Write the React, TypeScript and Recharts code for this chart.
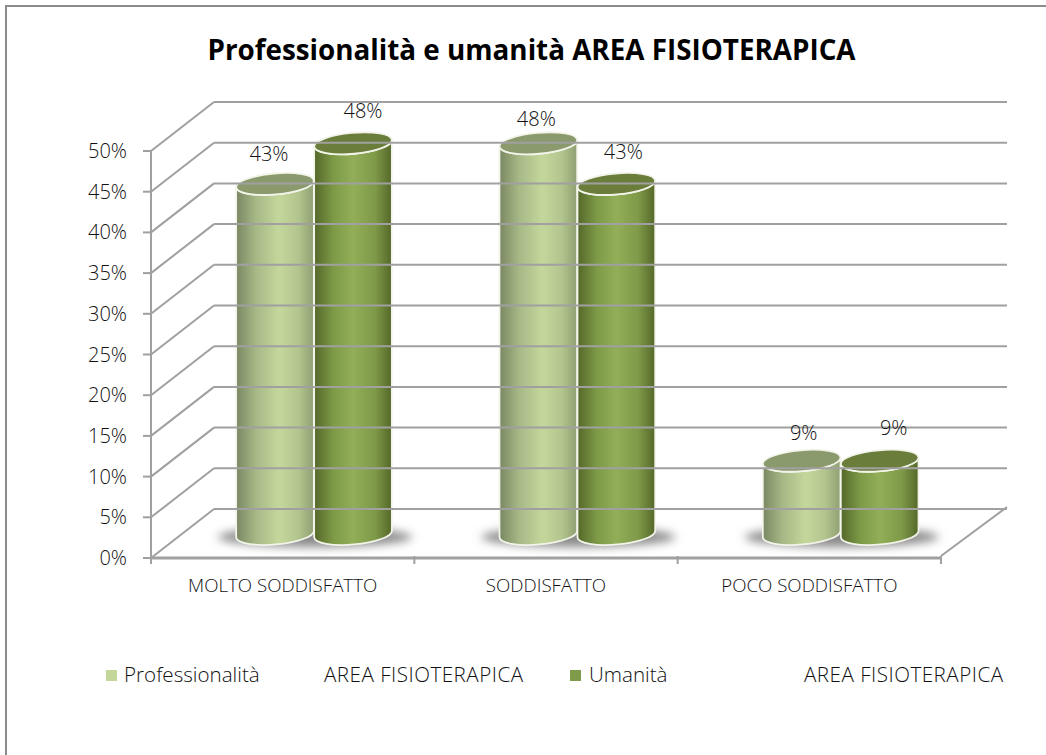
import { BarChart, Bar, XAxis, YAxis, LabelList, Legend } from "recharts";

const categories = ["MOLTO SODDISFATTO", "SODDISFATTO", "POCO SODDISFATTO"];
const professionalita = [43, 48, 9];
const umanita = [48, 43, 9];
const yTicks = [0, 5, 10, 15, 20, 25, 30, 35, 40, 45, 50];
const legendSuffix = "AREA FISIOTERAPICA";

const data = categories.map((name, i) => ({
  name,
  professionalita: professionalita[i],
  umanita: umanita[i],
}));

const FONT = '"Open Sans", "Noto Sans", sans-serif';
const TEXT = "#111";
const AXIS = "#a0a0a0";

// floor depth of the fake 3D box, and how far the bars sit into it
const DEPTH_X = 63;
const DEPTH_Y = -49;
const BAR_DX = 31;
const BAR_DY = -24;
const FRONT_WIDTH = 790;
const BAND = FRONT_WIDTH / categories.length;

// hand nudges so the data labels land where the original put them
const labelNudgeA = [[-6, -30], [-2, -24], [2, -28]];
const labelNudgeB = [[10, -32], [7, -32], [14, -33]];

function WallTick({ x, y, payload }: any) {
  const left = x + 10;
  return (
    <g>
      <line x1={left} y1={y} x2={left + DEPTH_X} y2={y + DEPTH_Y} stroke={AXIS} strokeWidth={2} />
      <line x1={left + DEPTH_X} y1={y + DEPTH_Y} x2={left + DEPTH_X + FRONT_WIDTH + 3} y2={y + DEPTH_Y} stroke={AXIS} strokeWidth={2} />
      <text x={x - 14} y={y + 7} textAnchor="end" fontSize={20} fontWeight={300} fontFamily={FONT} fill={TEXT}>
        {payload.value}%
      </text>
    </g>
  );
}

function FloorTick({ x, y, payload, index }: any) {
  const axisY = y - 8 - 2;
  const leftEdge = x - BAND / 2;
  const rightEdge = x + BAND / 2;
  const last = index === categories.length - 1;
  return (
    <g>
      <line x1={leftEdge} y1={axisY} x2={leftEdge} y2={axisY + 8} stroke={AXIS} strokeWidth={2} />
      {last && (
        <>
          <line x1={rightEdge} y1={axisY} x2={rightEdge} y2={axisY + 8} stroke={AXIS} strokeWidth={2} />
          <line x1={rightEdge} y1={axisY} x2={rightEdge + DEPTH_X + 3} y2={axisY + DEPTH_Y} stroke={AXIS} strokeWidth={2} />
        </>
      )}
      <text x={x} y={axisY + 36} textAnchor="middle" fontSize={18.7} fontWeight={300} fontFamily={FONT} fill={TEXT}>
        {payload.value}
      </text>
    </g>
  );
}

function Cylinder({ x, y, width, height, bodyId, top, shadow }: any) {
  const rx = width / 2;
  const ry = 10.5;
  const tilt = -5;
  const cx = x + rx + BAR_DX;
  const topY = y + BAR_DY;
  const baseY = y + height + BAR_DY;
  const dx = rx * Math.cos((tilt * Math.PI) / 180);
  const dy = rx * Math.sin((tilt * Math.PI) / 180);
  const body = `M${cx - dx} ${topY - dy} L${cx - dx} ${baseY - dy} A${rx} ${ry} ${tilt} 0 0 ${cx + dx} ${baseY + dy} L${cx + dx} ${topY + dy} A${rx} ${ry} ${tilt} 0 1 ${cx - dx} ${topY - dy} Z`;
  return (
    <g>
      {shadow && (
        <ellipse
          cx={x + width + BAR_DX + 1}
          cy={baseY + 3}
          rx={width + 19}
          ry={10}
          fill="#8a8a8a"
          filter="url(#floorShadow)"
        />
      )}
      <path d={body} fill={`url(#${bodyId})`} stroke="#f2f4ea" strokeWidth={1.8} />
      <ellipse
        cx={cx}
        cy={topY}
        rx={rx}
        ry={ry}
        fill={top}
        stroke="#f2f4ea"
        strokeWidth={1.8}
        transform={`rotate(${tilt} ${cx} ${topY})`}
      />
    </g>
  );
}

function nudgedLabel(nudges: number[][]) {
  return ({ x, y, width, value, index }: any) => (
    <text
      x={x + width / 2 + BAR_DX + nudges[index][0]}
      y={y + BAR_DY + nudges[index][1] + 7}
      textAnchor="middle"
      fontSize={20}
      fontWeight={300}
      fontFamily={FONT}
      fill={TEXT}
    >
      {value}%
    </text>
  );
}

function LegendRow({ payload }: any) {
  const spots = [
    { box: 106, name: 124, suffix: 324 },
    { box: 570, name: 589, suffix: 804 },
  ];
  return (
    <div style={{ position: "relative", height: 30, fontFamily: FONT, fontWeight: 300, fontSize: 20.6, color: TEXT, whiteSpace: "nowrap" }}>
      {(payload || []).map((p: any, i: number) => (
        <div key={p.value}>
          <span style={{ position: "absolute", left: spots[i].box, top: 10, width: 11, height: 11, background: p.color }} />
          <span style={{ position: "absolute", left: spots[i].name, top: 0 }}>{p.value}</span>
          <span style={{ position: "absolute", left: spots[i].suffix, top: 0, letterSpacing: 0.5 }}>{legendSuffix}</span>
        </div>
      ))}
    </div>
  );
}

export default function App() {
  return (
    <div style={{ position: "absolute", left: 0, top: 0, width: 1046, height: 755, background: "#fff", overflow: "hidden" }}>
      <div style={{ position: "absolute", left: 5, top: 5, width: 1100, height: 800, border: "2px solid #8c8c8c" }} />
      <div
        style={{
          position: "absolute",
          left: 0,
          width: 1063,
          top: 30,
          textAlign: "center",
          fontFamily: FONT,
          fontWeight: 700,
          fontSize: 27.8,
          color: "#000",
          whiteSpace: "nowrap",
        }}
      >
        Professionalità e umanità AREA FISIOTERAPICA
      </div>
      <BarChart
        width={1046}
        height={755}
        data={data}
        margin={{ top: 151, right: 105, bottom: 127, left: 0 }}
        barSize={78}
        barGap={0}
        style={{ position: "absolute", left: 0, top: 0 }}
      >
        <defs>
          <linearGradient id="bodyLight" x1="0" y1="0" x2="1" y2="0">
            <stop offset="0%" stopColor="#7a8762" />
            <stop offset="25%" stopColor="#a6b886" />
            <stop offset="55%" stopColor="#c4d79b" />
            <stop offset="80%" stopColor="#b3c58e" />
            <stop offset="100%" stopColor="#8f9f72" />
          </linearGradient>
          <linearGradient id="bodyDark" x1="0" y1="0" x2="1" y2="0">
            <stop offset="0%" stopColor="#546729" />
            <stop offset="25%" stopColor="#7d9a47" />
            <stop offset="50%" stopColor="#92ae58" />
            <stop offset="78%" stopColor="#7f9a48" />
            <stop offset="100%" stopColor="#546729" />
          </linearGradient>
          <filter id="floorShadow" x="-20%" y="-100%" width="140%" height="300%">
            <feGaussianBlur stdDeviation="5" />
          </filter>
        </defs>
        <YAxis
          type="number"
          domain={[0, 50]}
          ticks={yTicks}
          width={151}
          interval={0}
          axisLine={{ stroke: AXIS, strokeWidth: 2 }}
          tickLine={{ stroke: AXIS, strokeWidth: 2 }}
          tickSize={8}
          tick={<WallTick />}
        />
        <XAxis
          dataKey="name"
          height={40}
          tickLine={false}
          axisLine={{ stroke: AXIS, strokeWidth: 3 }}
          interval={0}
          tick={<FloorTick />}
        />
        <Legend verticalAlign="bottom" content={<LegendRow />} wrapperStyle={{ left: 0, top: 660, width: 1046 }} />
        <Bar
          dataKey="professionalita"
          name="Professionalità"
          fill="#c4d79b"
          isAnimationActive={false}
          shape={(p: any) => <Cylinder {...p} bodyId="bodyLight" top="#8b9a6d" shadow />}
        >
          <LabelList dataKey="professionalita" content={nudgedLabel(labelNudgeA)} />
        </Bar>
        <Bar
          dataKey="umanita"
          name="Umanità"
          fill="#7f9a48"
          isAnimationActive={false}
          shape={(p: any) => <Cylinder {...p} bodyId="bodyDark" top="#6b7d3a" />}
        >
          <LabelList dataKey="umanita" content={nudgedLabel(labelNudgeB)} />
        </Bar>
      </BarChart>
    </div>
  );
}
